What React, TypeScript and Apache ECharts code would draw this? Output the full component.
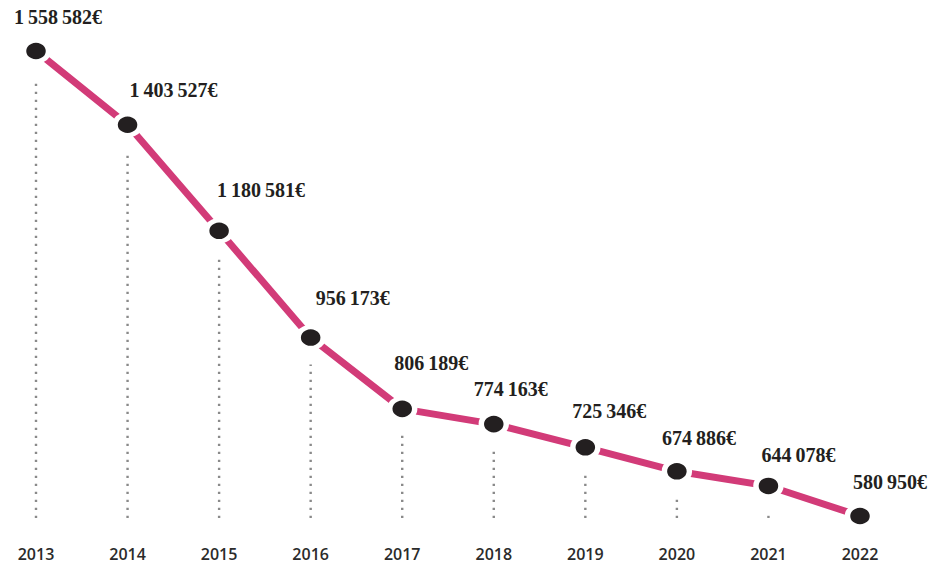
import React, { useEffect, useRef } from "react";
import * as echarts from "echarts";

const years = ["2013", "2014", "2015", "2016", "2017", "2018", "2019", "2020", "2021", "2022"];
const amounts = [1558582, 1403527, 1180581, 956173, 806189, 774163, 725346, 674886, 644078, 580950];
const labelOffsets: [number, number][] = [
  [22, -34], [46, -35], [42, -41], [42, -40], [29, -46],
  [17, -35], [24, -36], [22, -33], [30, -31], [30, -34],
];

const Y_MIN = 580950;
const Y_MAX = 1558582;

function fmt(v: number): string {
  return v.toString().replace(/\B(?=(\d{3})+(?!\d))/g, "\u2009") + "€";
}

export default function App() {
  const ref = useRef<HTMLDivElement>(null);
  useEffect(() => {
    if (!ref.current) return;
    const chart = echarts.init(ref.current, null, { renderer: "svg" });
    chart.setOption({
      animation: false,
      grid: { left: 36, right: 80, top: 51, bottom: 48 },
      xAxis: {
        type: "category",
        data: years,
        boundaryGap: false,
        axisLine: { show: false },
        axisTick: { show: false },
        splitLine: { show: false },
        axisLabel: {
          margin: 30,
          color: "#2b2b2b",
          fontFamily: "Open Sans",
          fontWeight: 600,
          fontSize: 16,
        },
      },
      yAxis: {
        type: "value",
        min: Y_MIN,
        max: Y_MAX,
        show: false,
      },
      series: [
        {
          type: "custom",
          data: years.map((y, i) => [i, amounts[i]]),
          clip: false,
          z: 1,
          renderItem: (params: any, api: any) => {
            const p = api.coord([api.value(0), api.value(1)]);
            const bottom = api.coord([api.value(0), Y_MIN])[1] + 2;
            const top = p[1] + 27;
            if (top >= bottom - 4) return null;
            return {
              type: "line",
              shape: { x1: p[0], y1: bottom, x2: p[0], y2: top },
              style: { stroke: "#8a8a8a", lineWidth: 2.4, lineDash: [2.2, 5.8] },
            };
          },
        },
        {
          type: "line",
          data: amounts.map((v, i) => ({
            value: v,
            label: { offset: labelOffsets[i] },
          })),
          clip: false,
          z: 2,
          lineStyle: { color: "#d23b78", width: 7 },
          symbol: "circle",
          symbolSize: [25, 21],
          itemStyle: { color: "#231f20", borderColor: "#ffffff", borderWidth: 5 },
          label: {
            show: true,
            position: "inside",
            align: "center",
            verticalAlign: "middle",
            formatter: (p: any) => fmt(p.value),
            fontFamily: "Liberation Serif",
            fontWeight: "bold",
            fontSize: 20,
            color: "#231f20",
          },
        },
      ],
    });
    return () => chart.dispose();
  }, []);
  return <div ref={ref} style={{ width: 940, height: 564, position: "absolute", left: 0, top: 0 }} />;
}
